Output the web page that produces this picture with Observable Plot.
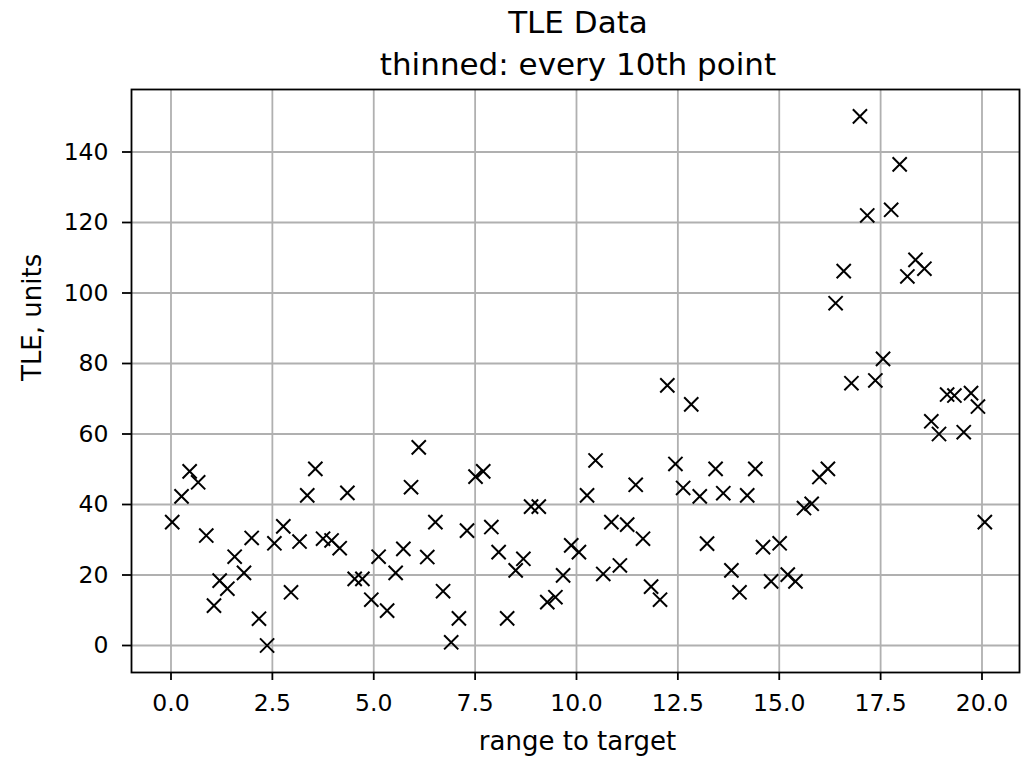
<!DOCTYPE html>
<html>
<head>
<meta charset="utf-8">
<script src="https://cdn.jsdelivr.net/npm/d3@7"></script>
<script src="https://cdn.jsdelivr.net/npm/@observablehq/plot@0.6"></script>
<style>
  html, body { margin: 0; padding: 0; background: #fff; }
  body { width: 1021px; height: 758px; overflow: hidden; font-family: "DejaVu Sans", sans-serif; }
  #title { box-sizing: border-box; width: 1021px; height: 86px; padding-top: 2px; padding-left: 135px;
           text-align: center; font-size: 31px; line-height: 41.7px; color: #000; }
  #chart svg { display: block; overflow: visible; }
</style>
</head>
<body>
<div id="title"><div>TLE Data</div><div>thinned: every 10th point</div></div>
<div id="chart"></div>
<script>
const titleLines = ["TLE Data", "thinned: every 10th point"];
const xLabel = "range to target";
const yLabel = "TLE, units";
const xTicks = [0, 2.5, 5, 7.5, 10, 12.5, 15, 17.5, 20];
const yTicks = [0, 20, 40, 60, 80, 100, 120, 140];

const rangeValues = [
  0.03, 0.26, 0.46, 0.67, 0.87, 1.06, 1.20, 1.39, 1.57, 1.80,
  1.99, 2.17, 2.37, 2.55, 2.77, 2.96, 3.17, 3.36, 3.56, 3.75,
  3.96, 4.16, 4.35, 4.53, 4.72, 4.94, 5.12, 5.33, 5.54, 5.73,
  5.92, 6.11, 6.32, 6.52, 6.71, 6.91, 7.10, 7.30, 7.51, 7.70,
  7.90, 8.08, 8.29, 8.50, 8.69, 8.88, 9.07, 9.28, 9.48, 9.67,
  9.87, 10.06, 10.26, 10.47, 10.66, 10.86, 11.07, 11.25, 11.46, 11.64,
  11.84, 12.06, 12.24, 12.44, 12.63, 12.83, 13.04, 13.22, 13.43, 13.62,
  13.82, 14.02, 14.21, 14.41, 14.60, 14.80, 15.01, 15.21, 15.40, 15.61,
  15.80, 15.99, 16.20, 16.39, 16.59, 16.78, 16.99, 17.17, 17.37, 17.56,
  17.76, 17.97, 18.16, 18.36, 18.58, 18.75, 18.94, 19.14, 19.32, 19.55,
  19.73, 19.90, 20.07
];
const tleValues = [
  35.0, 42.3, 49.4, 46.3, 31.2, 11.3, 18.4, 16.1, 25.2, 20.6,
  30.5, 7.6, 0.0, 29.0, 33.8, 15.1, 29.5, 42.6, 50.1, 30.3,
  29.8, 27.6, 43.3, 18.9, 18.9, 13.0, 25.2, 9.9, 20.6, 27.4,
  44.9, 56.2, 25.1, 35.0, 15.4, 0.9, 7.7, 32.6, 47.9, 49.4,
  33.6, 26.5, 7.7, 21.3, 24.6, 39.4, 39.4, 12.3, 13.7, 19.9,
  28.4, 26.5, 42.6, 52.5, 20.3, 35.0, 22.7, 34.3, 45.6, 30.3,
  16.7, 13.0, 73.8, 51.5, 44.7, 68.4, 42.3, 28.9, 50.1, 43.2,
  21.3, 15.1, 42.6, 50.1, 27.9, 18.2, 29.0, 20.1, 18.2, 39.0,
  40.2, 47.8, 50.1, 97.1, 106.2, 74.4, 150.1, 122.0, 75.2, 81.3,
  123.6, 136.5, 104.7, 109.4, 106.9, 63.6, 60.0, 71.2, 70.9, 60.5,
  71.6, 67.8, 35.0
];

const data = rangeValues.map((r, i) => ({range: r, tle: tleValues[i]}));

const gridStyle = {stroke: "#b0b0b0", strokeOpacity: 1, strokeWidth: 1.8};

const chart = Plot.plot({
  width: 1021,
  height: 672,
  marginTop: 3,
  marginBottom: 86,
  marginLeft: 131,
  marginRight: 2,
  style: {fontFamily: "DejaVu Sans, sans-serif", color: "#000", background: "#fff", overflow: "visible"},
  x: {domain: [-0.974, 20.925]},
  y: {domain: [-7.66, 157.73]},
  marks: [
    Plot.gridX(xTicks, gridStyle),
    Plot.gridY(yTicks, gridStyle),
    Plot.axisX(xTicks, {tickFormat: d => d.toFixed(1), tickSize: 8, tickPadding: 14, fontSize: 23.5, strokeWidth: 1.8, label: null}),
    Plot.axisY(yTicks, {tickFormat: d => String(d), tickSize: 9, tickPadding: 14, fontSize: 23.5, strokeWidth: 1.8, label: null}),
    Plot.dot(data, {x: "range", y: "tle", symbol: "times", r: 6.5, stroke: "black", strokeWidth: 2}),
    Plot.frame({stroke: "black", strokeWidth: 1.8}),
    Plot.text([xLabel], {frameAnchor: "bottom", text: d => d, dy: 77, lineAnchor: "bottom", fontSize: 26, fill: "black", dx: 2}),
    Plot.text([yLabel], {frameAnchor: "left", text: d => d, dx: -99, rotate: -90, lineAnchor: "middle", fontSize: 26, fill: "black"})
  ]
});
document.getElementById("chart").appendChild(chart);
</script>
</body>
</html>
